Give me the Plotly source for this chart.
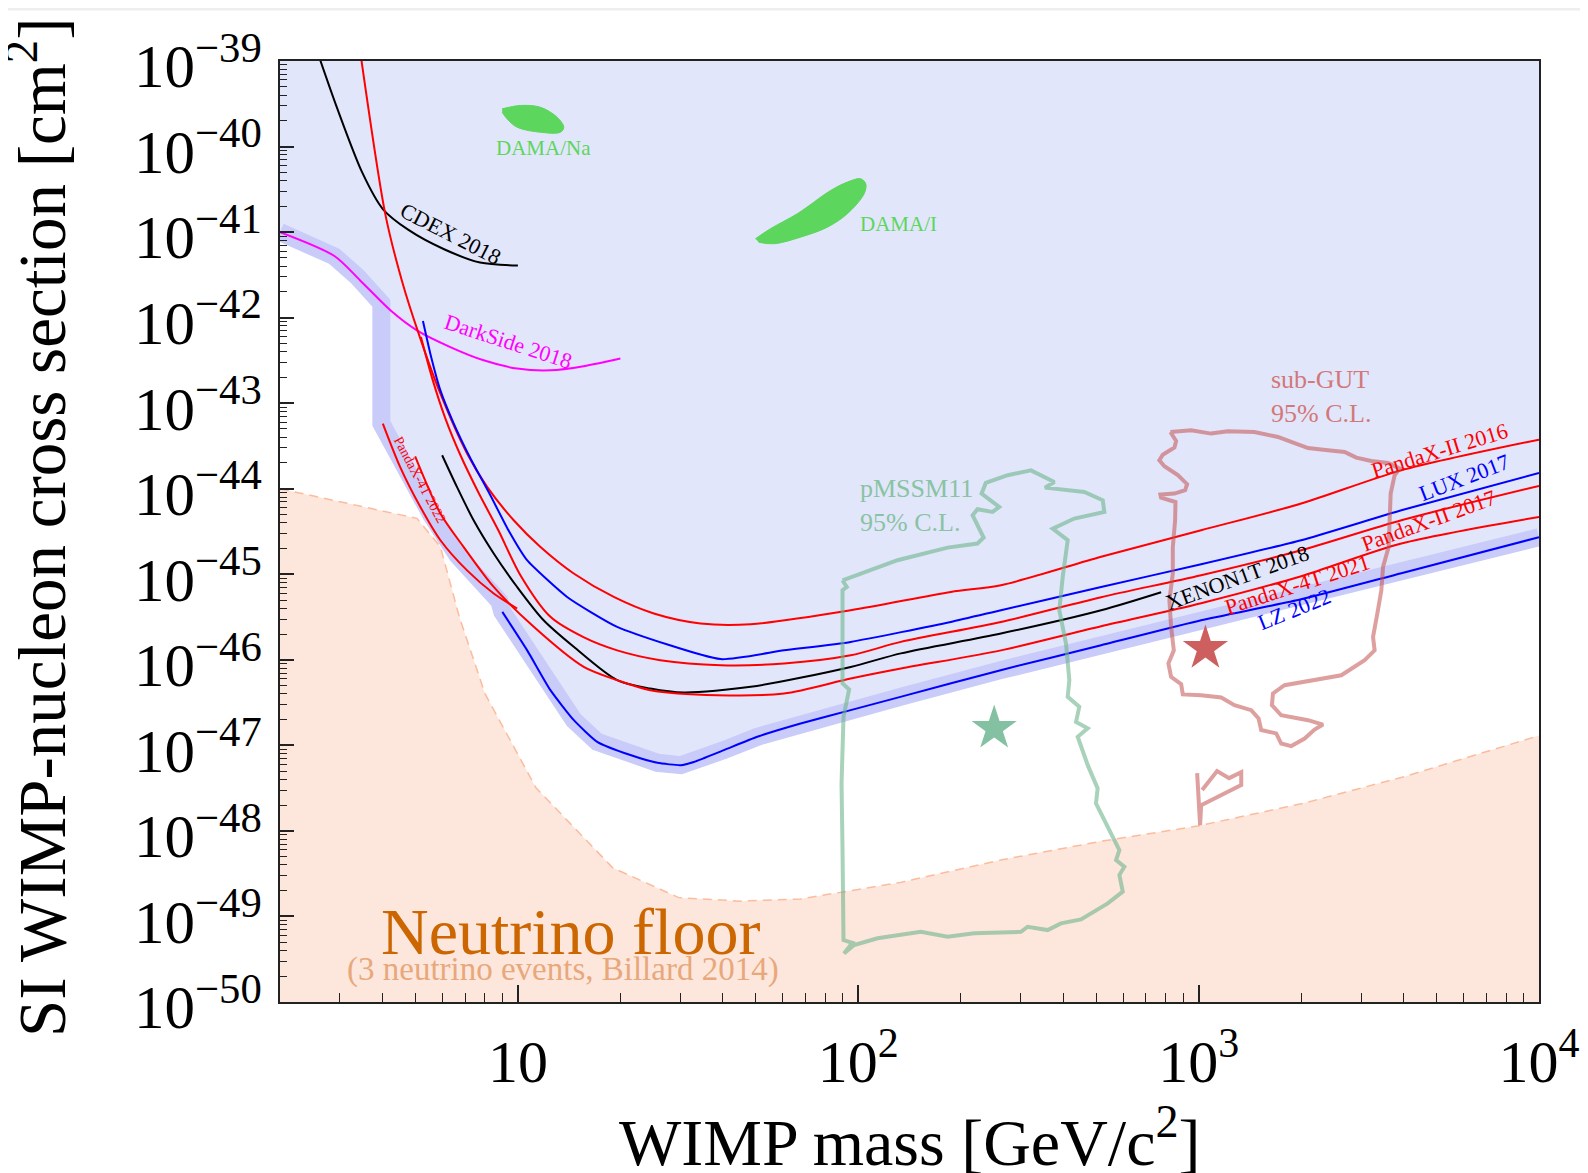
import math
import plotly.graph_objects as go

# ---------------- data (WIMP mass in GeV/c^2, cross section in cm^2) ----------------
nu_floor_mass = [2.0, 5.05, 5.92, 6.29, 6.74, 8.01, 11.3, 19.0, 29.7, 45, 67.6, 133, 264, 520, 993, 2027, 4010, 10000]
nu_floor_xsec = [1.0e-44, 4.5e-45, 2.1e-45, 8.5e-46, 3.1e-46, 4.0e-47, 3.2e-48, 3.7e-49, 1.66e-49, 1.51e-49, 1.6e-49,
                 2.5e-49, 4.6e-49, 7.6e-49, 1.14e-48, 2.1e-48, 4.3e-48, 1.3e-47]

limit_low_mass = [2.0, 2.89, 3.37, 3.97, 3.97, 4.45, 5.10, 5.57, 6.64, 7.60, 8.82]
limit_low_xsec = [1.0e-41, 5.2e-42, 3.03e-42, 1.47e-42, 5.8e-44, 2.4e-44, 9.1e-45, 4.9e-45, 1.67e-45, 1.0e-45, 4.84e-46]

lz2022_mass = [9.0, 10.65, 12.46, 14.6, 17.1, 21.4, 25.7, 30.1, 32.9, 40.3, 50.5, 67.7, 95, 133, 262, 517, 1017, 2000, 3940, 10000]
lz2022_xsec = [3.63e-46, 1.29e-46, 4.42e-47, 1.97e-47, 1.10e-47, 7.7e-48, 6.25e-48, 5.87e-48, 6.4e-48, 8.8e-48, 1.26e-47,
               1.80e-47, 2.58e-47, 3.69e-47, 7.57e-47, 1.48e-46, 2.9e-46, 5.1e-46, 1.03e-45, 2.71e-45]

lux2017_mass = [5.26, 5.53, 5.92, 6.48, 7.25, 8.3, 9.38, 10.64, 13.95, 19.57, 39.4, 60.5, 95, 187, 262.5, 517, 1017, 2002, 3941, 10000]
lux2017_xsec = [9.12e-43, 3.79e-43, 1.41e-43, 5.77e-44, 2.27e-44, 8.38e-45, 3.27e-45, 1.46e-45, 5.43e-46, 2.43e-46, 1.02e-46,
                1.29e-46, 1.62e-46, 2.77e-46, 3.8e-46, 7.11e-46, 1.31e-45, 2.5e-45, 5.6e-45, 1.53e-44]

pandax2_2016_mass = [3.45, 4.08, 4.56, 5.11, 5.92, 7.09, 8.12, 9.72, 11.65, 14.59, 19.13, 25.08, 34.4, 48.3, 95, 187, 262.5, 517,
                     1017, 2002, 3941, 10000]
pandax2_2016_xsec = [1.2e-39, 1.6e-41, 2.72e-42, 6.5e-43, 1.29e-43, 2.58e-44, 1.05e-44, 4.28e-45, 2.08e-45, 1.02e-45, 5.43e-46,
                     3.48e-46, 2.66e-46, 2.61e-46, 3.8e-46, 6.22e-46, 7.45e-46, 1.6e-45, 3.27e-45, 6.71e-45, 1.64e-44, 3.75e-44]

pandax2_2017_mass = [5.19, 5.6, 6.12, 6.78, 7.65, 8.76, 10.17, 12.46, 15.58, 19.57, 26.2, 39.4, 60.5, 95, 133.4, 262.5, 517,
                     1017, 2002, 3941, 10000]
pandax2_2017_xsec = [5.93e-43, 1.95e-43, 6.65e-44, 2.46e-44, 9.1e-45, 3.27e-45, 9.75e-46, 3.18e-46, 1.84e-46, 1.29e-46,
                     9.9e-47, 8.65e-47, 9.06e-47, 1.13e-46, 1.62e-46, 2.77e-46, 5.4e-46, 9.75e-46, 1.91e-45, 4.28e-45, 1.08e-44]

xenon1t_2018_mass = [5.99, 6.62, 7.41, 8.49, 9.95, 11.9, 14.59, 19.57, 24.5, 30.7, 48.3, 95, 133.4, 262.5, 517, 776]
xenon1t_2018_xsec = [2.46e-44, 1.05e-44, 4.28e-45, 1.75e-45, 7.1e-46, 2.9e-46, 1.42e-46, 5.78e-47, 4.62e-47, 4.15e-47,
                     4.83e-47, 8.26e-47, 1.19e-46, 2.03e-46, 3.8e-46, 6.17e-46]

pandax4t_2021_mass = [4.99, 5.92, 6.93, 8.49, 11.13, 15.61, 19.57, 24.5, 38.5, 60.5, 95, 133.4, 262.5, 517, 1017, 2002, 3941, 10000]
pandax4t_2021_xsec = [2.39e-44, 5.13e-45, 2.08e-45, 7.11e-46, 2.43e-46, 8.26e-47, 5.78e-47, 4.42e-47, 3.86e-47, 4.04e-47,
                      6.05e-47, 7.92e-47, 1.29e-46, 2.47e-46, 4.59e-46, 9.5e-46, 2.29e-45, 4.68e-45]

pandax4t_2022_mass = [4.01, 4.51, 5.17, 5.92, 7.09, 8.49, 9.95]
pandax4t_2022_xsec = [5.77e-44, 1.79e-44, 6.12e-45, 2.5e-45, 1.11e-45, 5.96e-46, 3.98e-46]

cdex2018_mass = [2.62, 2.94, 3.49, 4.01, 4.77, 6.07, 7.74, 10.0]
cdex2018_xsec = [1.05e-39, 2.85e-40, 4.95e-41, 1.86e-41, 1.06e-41, 6.3e-42, 4.4e-42, 4.06e-42]

darkside2018_mass = [2.0, 2.89, 3.44, 4.22, 5.05, 6.33, 7.93, 9.95, 12.46, 15.6, 20.0]
darkside2018_xsec = [1.0e-41, 5.26e-42, 2.72e-42, 1.22e-42, 7.1e-43, 4.53e-43, 3.17e-43, 2.54e-43, 2.42e-43, 2.7e-43, 3.32e-43]

dama_na_mass = [8.99, 10.17, 11.64, 13.04, 13.64, 13.33, 11.64, 9.95, 9.29, 8.99]
dama_na_xsec = [2.76e-40, 3.02e-40, 2.88e-40, 2.2e-40, 1.68e-40, 1.47e-40, 1.47e-40, 1.68e-40, 2.11e-40, 2.52e-40]

dama_i_mass = [49.9, 55.3, 66.2, 83, 92.9, 101.6, 105.2, 104, 92.9, 81.1, 67.7, 56.5, 51.0]
dama_i_xsec = [8.37e-42, 1.1e-41, 1.64e-41, 3.07e-41, 3.84e-41, 4.2e-41, 3.67e-41, 2.8e-41, 1.64e-41, 1.14e-41, 8.73e-42,
               7.3e-42, 7.6e-42]

pmssm11_mass = [89.9, 101.7, 130.4, 183, 224, 233.5, 216.7, 224, 248, 259.5, 230.3, 237, 274.8, 321.7, 376.7, 353.6, 461.5,
                522.8, 528.4, 431.2, 372.6, 412.4, 398.7, 389.6, 407.7, 417, 412.4, 446, 436.3, 472.2, 441.3, 472.2, 505,
                499.3, 534.5, 565.5, 584.9, 572, 605, 584.9, 598.5, 540.7, 451.2, 394, 360, 314.5, 300.6, 219, 183, 152.7,
                113.9, 97.2, 90.8, 96.1, 90.5, 89.9, 89.3, 90.5, 94, 89.9, 89.9, 92.5, 89.9]
pmssm11_xsec = [8.51e-46, 1.02e-45, 1.46e-45, 2.05e-45, 2.29e-45, 2.69e-45, 4.9e-45, 5.75e-45, 5.35e-45, 6.12e-45, 8.77e-45,
                1.17e-44, 1.44e-44, 1.64e-44, 1.2e-44, 1.03e-44, 9.16e-45, 7.33e-45, 5.35e-45, 4.48e-45, 3.42e-45, 2.5e-45,
                9.31e-46, 3.8e-46, 1.55e-46, 5.78e-47, 3.69e-47, 2.82e-47, 1.88e-47, 1.58e-47, 1.26e-47, 5.87e-48,
                3.14e-48, 2.1e-48, 1.22e-48, 7.46e-49, 5.97e-49, 4.56e-49, 3.81e-49, 3.05e-49, 1.95e-49, 1.42e-49,
                9.25e-50, 8.3e-50, 6.93e-50, 7.58e-50, 6.62e-50, 6.35e-50, 5.79e-50, 6.62e-50, 5.55e-50, 4.63e-50,
                3.7e-50, 4.93e-50, 5.3e-50, 5.97e-49, 3.59e-48, 2.15e-47, 4.5e-47, 5.29e-47, 6.5e-46, 7.1e-46, 8.51e-46]
pmssm11_best_mass = [250.8]
pmssm11_best_xsec = [1.58e-47]

subgut_mass = [826, 950.5, 1088, 1218, 1459, 1710, 1871, 2096, 2399, 2685, 2905, 3217, 3602, 3896, 3766, 3666, 3641, 3616,
               3482, 3442, 3350, 3254, 3289, 3074, 2625, 2096, 1788, 1653, 1642, 1748, 2096, 2319, 2191, 2048, 1871, 1748,
               1690, 1527, 1500, 1427, 1274, 1165, 1017, 898.5, 888.4, 830, 815, 845.5, 830, 820.6, 839.7, 839.7, 853,
               855, 775.7, 772, 849, 912.7, 925, 868.7, 793.3, 766.6, 784.5, 849, 858.8, 826]
subgut_xsec = [4.6e-44, 4.82e-44, 4.41e-44, 4.69e-44, 4.6e-44, 4.03e-44, 3.52e-44, 2.99e-44, 2.81e-44, 2.69e-44, 2.31e-44,
               2.11e-44, 2.0e-44, 1.72e-44, 1.44e-44, 8.77e-45, 4.28e-45, 2.08e-45, 1.22e-45, 6.5e-46, 3.48e-46, 1.85e-46,
               1.29e-46, 9.9e-47, 6.6e-47, 5.62e-47, 5.05e-47, 4.04e-47, 2.95e-47, 2.25e-47, 1.97e-47, 1.75e-47,
               1.53e-47, 1.2e-47, 9.8e-48, 1.05e-47, 1.38e-47, 1.51e-47, 2.06e-47, 2.58e-47, 2.95e-47, 3.63e-47,
               3.86e-47, 3.94e-47, 5.19e-47, 6.31e-47, 9.06e-47, 1.29e-46, 2.43e-46, 4.98e-46, 1.02e-45, 2.08e-45,
               4.28e-45, 7.0e-45, 7.88e-45, 8.55e-45, 8.77e-45, 9.6e-45, 1.13e-44, 1.44e-44, 1.83e-44, 2.15e-44,
               2.5e-44, 3.03e-44, 3.61e-44, 4.6e-44]
subgut_flag_mass = [990, 1003, 1010, 1017, 1334, 1334, 1229, 1133, 1024]
subgut_flag_xsec = [4.73e-48, 2.29e-48, 1.17e-48, 2.0e-48, 3.43e-48, 4.86e-48, 4.14e-48, 5.0e-48, 3.0e-48]
subgut_best_mass = [1047]
subgut_best_xsec = [1.36e-46]

xtick_vals = [10, 100, 1000, 10000]
xtick_text = ["10", "10<sup>2</sup>", "10<sup>3</sup>", "10<sup>4</sup>"]
ytick_exponents = list(range(-50, -38))
ytick_vals = [10.0 ** e for e in ytick_exponents]
ytick_text = ["10<sup>\u2212%d</sup>" % abs(e) for e in ytick_exponents]

# ---------------- figure ----------------
FONT = "Liberation Serif"
fig = go.Figure()


def add_line(m, s, color, width=2.0, shape="linear", dash=None, smoothing=0.8):
    line = dict(color=color, width=width, shape=shape)
    if shape == "spline":
        line["smoothing"] = smoothing
    if dash:
        line["dash"] = dash
    fig.add_trace(go.Scatter(x=m, y=s, mode="lines", line=line, hoverinfo="skip", showlegend=False))


def add_fill(m, s, color, shape="linear", linecolor=None):
    fig.add_trace(go.Scatter(x=m, y=s, mode="lines", fill="toself", fillcolor=color,
                             line=dict(color=linecolor or color, width=0 if linecolor is None else 1, shape=shape),
                             hoverinfo="skip", showlegend=False))


limit_mass = limit_low_mass + lz2022_mass
limit_xsec = limit_low_xsec + lz2022_xsec

# excluded region
add_fill(limit_mass + [10000, 2.0], limit_xsec + [1e-39, 1e-39], "#E2E6FB")
add_line(limit_mass, limit_xsec, "#C9CBF8", width=18)

# neutrino floor
add_fill(nu_floor_mass + [10000, 2.0], nu_floor_xsec + [1e-51, 1e-51], "rgba(250,195,170,0.40)")
add_line(nu_floor_mass, nu_floor_xsec, "rgba(250,170,130,0.75)", width=1.5, dash="9px,6px")

# DAMA
add_fill(dama_na_mass, dama_na_xsec, "#5CD65C", shape="spline", linecolor="#5CD65C")
add_fill(dama_i_mass, dama_i_xsec, "#5CD65C", shape="spline", linecolor="#5CD65C")

# experimental limits
add_line(cdex2018_mass, cdex2018_xsec, "black", shape="spline")
add_line(darkside2018_mass, darkside2018_xsec, "#FF00FF", shape="spline")
add_line(pandax2_2016_mass, pandax2_2016_xsec, "#FF0000", shape="spline")
add_line(lux2017_mass, lux2017_xsec, "#0000FF", shape="spline", smoothing=0.5)
add_line(pandax2_2017_mass, pandax2_2017_xsec, "#FF0000", shape="spline")
add_line(xenon1t_2018_mass, xenon1t_2018_xsec, "black", shape="spline")
add_line(pandax4t_2021_mass, pandax4t_2021_xsec, "#FF0000", shape="spline")
add_line(pandax4t_2022_mass, pandax4t_2022_xsec, "#FF0000", shape="spline")
add_line(lz2022_mass, lz2022_xsec, "#0000FF", shape="spline", smoothing=0.5)

# model contours
add_line(pmssm11_mass, pmssm11_xsec, "rgba(110,180,140,0.6)", width=4)
add_line(subgut_mass, subgut_xsec, "rgba(195,80,80,0.55)", width=4)
add_line(subgut_flag_mass, subgut_flag_xsec, "rgba(195,80,80,0.55)", width=4)
fig.add_trace(go.Scatter(x=pmssm11_best_mass, y=pmssm11_best_xsec, mode="markers",
                         marker=dict(symbol="star", size=34, color="#84C1A3", line=dict(width=0)),
                         hoverinfo="skip", showlegend=False))
fig.add_trace(go.Scatter(x=subgut_best_mass, y=subgut_best_xsec, mode="markers",
                         marker=dict(symbol="star", size=34, color="#CD5F5F", line=dict(width=0)),
                         hoverinfo="skip", showlegend=False))

# ---------------- labels ----------------
labels = [
    ("CDEX 2018", 6.33, 9.65e-42, "black", 22, 27),
    ("DarkSide 2018", 9.38, 5.28e-43, "#FF00FF", 22, 18),
    ("DAMA/Na", 11.9, 9.5e-41, "#5CD65C", 21, 0),
    ("DAMA/I", 131, 1.25e-41, "#5CD65C", 21, 0),
    ("PandaX-4T 2022", 5.17, 1.26e-44, "#FF0000", 14, 62),
    ("PandaX-II 2016", 5099, 2.81e-44, "#FF0000", 22, -17),
    ("LUX 2017", 6038, 1.34e-44, "#0000FF", 22, -21),
    ("PandaX-II 2017", 4749, 4.28e-45, "#FF0000", 22, -20),
    ("XENON1T 2018", 1304, 9.12e-46, "black", 22, -20),
    ("PandaX-4T 2021", 1949, 7.65e-46, "#FF0000", 22, -18),
    ("LZ 2022", 1903, 3.9e-46, "#0000FF", 22, -22),
]
for text, m, s, col, size, ang in labels:
    fig.add_annotation(x=math.log10(m), y=math.log10(s), xref="x", yref="y", text=text, showarrow=False,
                       textangle=ang, xanchor="center", yanchor="middle",
                       font=dict(family=FONT, size=size, color=col))

fig.add_annotation(x=math.log10(99.5), y=math.log10(6.4e-45), xref="x", yref="y", text="pMSSM11<br>95% C.L.",
                   showarrow=False, xanchor="left", yanchor="middle", align="left",
                   font=dict(family=FONT, size=26, color="#88C3A2"))
fig.add_annotation(x=math.log10(1615), y=math.log10(1.2e-43), xref="x", yref="y", text="sub-GUT<br>95% C.L.",
                   showarrow=False, xanchor="left", yanchor="middle", align="left",
                   font=dict(family=FONT, size=26, color="#D27878"))
fig.add_annotation(x=math.log10(14.3), y=math.log10(6.6e-50), xref="x", yref="y", text="Neutrino floor",
                   showarrow=False, xanchor="center", yanchor="middle",
                   font=dict(family=FONT, size=66, color="#CC6600"))
fig.add_annotation(x=math.log10(13.6), y=math.log10(2.4e-50), xref="x", yref="y",
                   text="(3 neutrino events, Billard 2014)", showarrow=False, xanchor="center", yanchor="middle",
                   font=dict(family=FONT, size=33, color="#E8A87C"))

# axis titles
fig.add_annotation(x=0.5, y=-0.1445, xref="paper", yref="paper", text="WIMP mass [GeV/c<sup>2</sup>]",
                   showarrow=False, xanchor="center", yanchor="middle", font=dict(family=FONT, size=66, color="black"))
fig.add_annotation(x=-0.193, y=0.5048, xref="paper", yref="paper",
                   text="SI WIMP-nucleon cross section [cm<sup>2</sup>]", textangle=-90,
                   showarrow=False, xanchor="center", yanchor="middle", font=dict(family=FONT, size=67, color="black"))

x_minor = [k * 10 ** n for n in range(0, 4) for k in range(2, 10) if 2 <= k * 10 ** n <= 10000]
y_minor = [k * 10.0 ** n for n in range(-50, -39) for k in range(2, 10)]

fig.update_xaxes(type="log", range=[math.log10(2), 4], tickmode="array", tickvals=xtick_vals, ticktext=xtick_text,
                 ticks="inside", ticklen=17, tickwidth=1.5, tickcolor="#222", automargin=False,
                 minor=dict(tickmode="array", tickvals=x_minor, ticks="inside", ticklen=9, tickwidth=1.2,
                            tickcolor="#222", showgrid=False),
                 showline=True, linecolor="#222", linewidth=2, mirror=True, showgrid=False, zeroline=False,
                 tickfont=dict(family=FONT, size=60, color="black"), ticklabelstandoff=6,
                 ticklabeloverflow="allow")
fig.update_yaxes(type="log", range=[-50, -39], tickmode="array", tickvals=ytick_vals, ticktext=ytick_text,
                 ticks="inside", ticklen=14, tickwidth=1.5, tickcolor="#222", automargin=False,
                 minor=dict(tickmode="array", tickvals=y_minor, ticks="inside", ticklen=7, tickwidth=1.2,
                            tickcolor="#222", showgrid=False),
                 showline=True, linecolor="#222", linewidth=2, mirror=True, showgrid=False, zeroline=False,
                 tickfont=dict(family=FONT, size=61, color="black"), ticklabelstandoff=4, ticklabelshift=5,
                 ticklabeloverflow="allow")

# the page adds an 8px body margin, so the figure is 8px smaller and the margins compensate
fig.add_shape(type="line", xref="paper", yref="paper", x0=-0.216, x1=1.039, y0=1.0553, y1=1.0553,
              line=dict(color="#EEEEEE", width=3))

fig.update_layout(width=1580, height=1165, autosize=False, margin=dict(l=272, r=49, t=53, b=171),
                  paper_bgcolor="white", plot_bgcolor="white", showlegend=False,
                  font=dict(family=FONT))

fig.write_html("out.html")
